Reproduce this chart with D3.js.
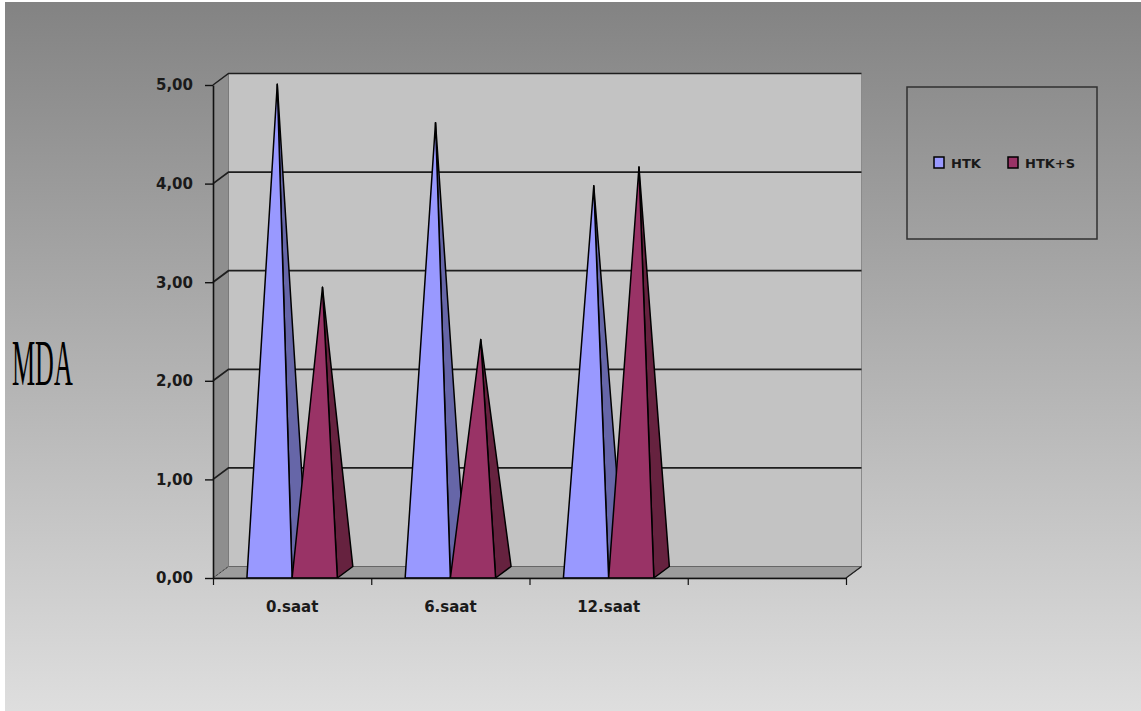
<!DOCTYPE html>
<html>
<head>
<meta charset="utf-8">
<script src="https://cdn.jsdelivr.net/npm/d3@7/dist/d3.min.js"></script>
<style>
  html, body { margin: 0; padding: 0; background: #ffffff; }
  svg { display: block; }
</style>
</head>
<body>
<svg id="chart" width="1141" height="711"></svg>
<script>
// Categories along the floor (the last slot is an empty category)
const categories = ["0.saat", "6.saat", "12.saat", ""];
// Series
const seriesNames = ["HTK", "HTK+S"];
const htkValues  = [4.95, 4.56, 3.92];
const htksValues = [2.89, 2.36, 4.11];
const yTicks = [0, 1, 2, 3, 4, 5];

const seriesValues = [htkValues, htksValues];
const frontColors = ["#9999ff", "#993366"];
const sideColors  = ["#6666a8", "#66223f"];

const svg = d3.select("#chart");
const W = 1141, H = 711;

// Background with vertical grey gradient
const defs = svg.append("defs");
const grad = defs.append("linearGradient")
  .attr("id", "bg").attr("x1", 0).attr("y1", 0).attr("x2", 0).attr("y2", 1);
grad.append("stop").attr("offset", "0%").attr("stop-color", "#838383");
grad.append("stop").attr("offset", "100%").attr("stop-color", "#dedede");
svg.append("rect").attr("x", 5).attr("y", 2).attr("width", W - 5).attr("height", H - 2)
  .attr("fill", "url(#bg)");

// Plot geometry (front plane) and depth offset for the 3D walls
const plotLeft = 213, plotRight = 846, plotBottom = 578, plotTop = 85;
const dx = 15.5, dy = -11.5;

const x0 = d3.scaleBand().domain(d3.range(categories.length)).range([plotLeft, plotRight]).padding(0);
const gapRatio = 1.5;
const barW = x0.bandwidth() / (seriesNames.length + gapRatio);
const x1 = d3.scaleBand().domain(d3.range(seriesNames.length))
  .range([barW * gapRatio / 2, barW * gapRatio / 2 + barW * seriesNames.length]).padding(0);
const y = d3.scaleLinear().domain([0, 5]).range([plotBottom, plotTop]);

// Back wall
svg.append("polygon")
  .attr("points", [[plotLeft + dx, y(5) + dy], [plotRight + dx, y(5) + dy], [plotRight + dx, y(0) + dy], [plotLeft + dx, y(0) + dy]].join(" "))
  .attr("fill", "#c3c3c3").attr("stroke", "#8a8a8a").attr("stroke-width", 1);

// Left side wall
svg.append("polygon")
  .attr("points", [[plotLeft, y(5)], [plotLeft + dx, y(5) + dy], [plotLeft + dx, y(0) + dy], [plotLeft, y(0)]].join(" "))
  .attr("fill", "#8e8e8e");
svg.append("line")
  .attr("x1", plotLeft + dx).attr("x2", plotLeft + dx).attr("y1", y(5) + dy).attr("y2", y(0) + dy)
  .attr("stroke", "#7a7a7a").attr("stroke-width", 1);

// Floor
svg.append("polygon")
  .attr("points", [[plotLeft, y(0)], [plotLeft + dx, y(0) + dy], [plotRight + dx, y(0) + dy], [plotRight, y(0)]].join(" "))
  .attr("fill", "#9c9c9c").attr("stroke", "#666").attr("stroke-width", 1);
svg.append("line")
  .attr("x1", plotRight).attr("y1", y(0)).attr("x2", plotRight + dx).attr("y2", y(0) + dy)
  .attr("stroke", "#222").attr("stroke-width", 1.2);

// Gridlines across the side wall and back wall
const grid = svg.append("g");
yTicks.filter(t => t > 0).forEach(t => {
  grid.append("polyline")
    .attr("points", [[plotLeft, y(t)], [plotLeft + dx, y(t) + dy], [plotRight + dx, y(t) + dy]].join(" "))
    .attr("fill", "none").attr("stroke", "#1e1e1e").attr("stroke-width", t === 5 ? 1.5 : 1.8);
});
svg.append("line")
  .attr("x1", plotLeft).attr("y1", y(0)).attr("x2", plotLeft + dx).attr("y2", y(0) + dy)
  .attr("stroke", "#444").attr("stroke-width", 1).attr("stroke-dasharray", "2,2");

// Pyramids
const marks = svg.append("g");
categories.forEach((c, ci) => {
  seriesValues.forEach((vals, si) => {
    const v = vals[ci];
    if (v === undefined) return;
    const xl = x0(ci) + x1(si);
    const xr = xl + barW;
    const yb = y(0);
    const apex = [(xl + xr) / 2 + dx / 2, y(v) + dy / 2];
    // right (side) face
    marks.append("polygon")
      .attr("points", [[xr, yb], [xr + dx, yb + dy], apex].join(" "))
      .attr("fill", sideColors[si]).attr("stroke", "#000").attr("stroke-width", 1.5)
      .attr("stroke-linejoin", "round");
    // front face
    marks.append("polygon")
      .attr("points", [[xl, yb], [xr, yb], apex].join(" "))
      .attr("fill", frontColors[si]).attr("stroke", "#000").attr("stroke-width", 1.5)
      .attr("stroke-linejoin", "round");
  });
});

// Axes
const fmt = d3.formatLocale({ decimal: ",", thousands: ".", grouping: [3], currency: ["", ""] }).format(".2f");
const yAxis = d3.axisLeft(y).tickValues(yTicks).tickFormat(fmt).tickSize(8).tickPadding(12).tickSizeOuter(0);
const yg = svg.append("g").attr("transform", `translate(${plotLeft},0)`).call(yAxis);
yg.select(".domain").attr("stroke", "#111").attr("stroke-width", 1.6);
yg.selectAll(".tick line").attr("stroke", "#111").attr("stroke-width", 1.4);
yg.selectAll(".tick text")
  .attr("font-family", "'DejaVu Sans', Verdana, sans-serif")
  .attr("font-weight", "bold").attr("font-size", 15).attr("fill", "#1a1a1a");

const xEdge = d3.scaleLinear().domain([0, categories.length]).range([plotLeft, plotRight]);
const xAxis = d3.axisBottom(xEdge).tickValues(d3.range(categories.length + 1)).tickFormat("").tickSize(7).tickSizeOuter(0);
const xg = svg.append("g").attr("transform", `translate(0,${plotBottom})`).call(xAxis);
xg.select(".domain").attr("stroke", "#111").attr("stroke-width", 1.6);
xg.selectAll(".tick line").attr("stroke", "#111").attr("stroke-width", 1.2);

svg.append("g").selectAll("text").data(categories).join("text")
  .attr("x", (d, i) => x0(i) + x0.bandwidth() / 2)
  .attr("y", 612)
  .attr("text-anchor", "middle")
  .attr("font-family", "'DejaVu Sans', Verdana, sans-serif")
  .attr("font-weight", "bold").attr("font-size", 15).attr("fill", "#1a1a1a")
  .text(d => d);

// Axis title
svg.append("text")
  .attr("transform", "translate(12,385) scale(0.4,1)")
  .attr("font-family", "'Liberation Serif', 'Times New Roman', serif")
  .attr("font-size", 65).attr("fill", "#000")
  .text("MDA");

// Legend
const lg = svg.append("g");
lg.append("rect").attr("x", 907).attr("y", 87).attr("width", 190).attr("height", 152)
  .attr("fill", "none").attr("stroke", "#303030").attr("stroke-width", 1.5);
const legendX = [934, 1008];
seriesNames.forEach((name, i) => {
  lg.append("rect").attr("x", legendX[i]).attr("y", 157).attr("width", 10).attr("height", 11)
    .attr("fill", frontColors[i]).attr("stroke", "#000").attr("stroke-width", 1.5);
  lg.append("text").attr("x", legendX[i] + 17).attr("y", 168)
    .attr("font-family", "'DejaVu Sans', Verdana, sans-serif")
    .attr("font-weight", "bold").attr("font-size", 13).attr("fill", "#1a1a1a")
    .text(name);
});
</script>
</body>
</html>
